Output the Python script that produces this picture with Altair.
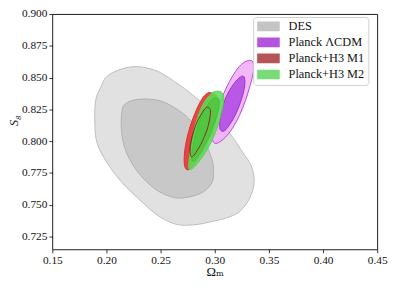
import altair as alt
import pandas as pd

# ---- contour vertices (Omega_m, S8) ----
des_outer_x = [0.2020, 0.2232, 0.2444, 0.2626, 0.2808, 0.2989, 0.3140, 0.3262, 0.3337, 0.3364,
               0.3321, 0.3231, 0.3110, 0.2989, 0.2837, 0.2686, 0.2565, 0.2444, 0.2293, 0.2141,
               0.2005, 0.1914, 0.1893, 0.1900, 0.1945]
des_outer_y = [0.8521, 0.8585, 0.8559, 0.8470, 0.8355, 0.8214, 0.8060, 0.7907, 0.7805, 0.7677,
               0.7549, 0.7446, 0.7396, 0.7370, 0.7344, 0.7339, 0.7370, 0.7434, 0.7549, 0.7677,
               0.7830, 0.7984, 0.8137, 0.8317, 0.8419]
des_inner_x = [0.2172, 0.2293, 0.2474, 0.2626, 0.2777, 0.2898, 0.2974, 0.2989, 0.2958, 0.2867,
               0.2717, 0.2595, 0.2444, 0.2293, 0.2186, 0.2141, 0.2141]
des_inner_y = [0.8291, 0.8329, 0.8321, 0.8265, 0.8163, 0.8010, 0.7856, 0.7728, 0.7651, 0.7588,
               0.7554, 0.7562, 0.7626, 0.7753, 0.7907, 0.8060, 0.8214]

planck_outer_x = [0.3336, 0.3359, 0.3354, 0.3327, 0.3282, 0.3227, 0.3163, 0.3100, 0.3036, 0.2995,
                  0.2977, 0.2982, 0.3009, 0.3054, 0.3118, 0.3191, 0.3263]
planck_outer_y = [0.8635, 0.8600, 0.8531, 0.8439, 0.8316, 0.8201, 0.8101, 0.8032, 0.7989, 0.7986,
                  0.8024, 0.8101, 0.8208, 0.8316, 0.8439, 0.8547, 0.8616]
planck_inner_x = [0.3259, 0.3277, 0.3273, 0.3245, 0.3200, 0.3145, 0.3091, 0.3054, 0.3045, 0.3063,
                  0.3100, 0.3154, 0.3209]
planck_inner_y = [0.8512, 0.8485, 0.8416, 0.8324, 0.8224, 0.8139, 0.8082, 0.8085, 0.8139, 0.8239,
                  0.8339, 0.8424, 0.8485]

m1_outer_x = [0.2963, 0.3009, 0.3032, 0.3027, 0.2991, 0.2927, 0.2854, 0.2791, 0.2750, 0.2723,
              0.2718, 0.2736, 0.2773, 0.2827, 0.2882, 0.2927]
m1_outer_y = [0.8381, 0.8362, 0.8316, 0.8224, 0.8101, 0.7978, 0.7870, 0.7797, 0.7774, 0.7801,
              0.7878, 0.7993, 0.8116, 0.8239, 0.8331, 0.8374]
m1_inner_x = [0.2941, 0.2959, 0.2954, 0.2927, 0.2882, 0.2836, 0.2800, 0.2777, 0.2773, 0.2791,
              0.2827, 0.2873, 0.2909]
m1_inner_y = [0.8266, 0.8239, 0.8178, 0.8085, 0.7993, 0.7924, 0.7882, 0.7886, 0.7947, 0.8032,
              0.8132, 0.8208, 0.8255]

m2_outer_x = [0.3036, 0.3068, 0.3082, 0.3077, 0.3054, 0.3018, 0.2963, 0.2900, 0.2836, 0.2791,
              0.2764, 0.2759, 0.2773, 0.2795, 0.2823, 0.2864, 0.2909, 0.2963, 0.3000]
m2_outer_y = [0.8393, 0.8381, 0.8347, 0.8285, 0.8201, 0.8093, 0.7986, 0.7893, 0.7820, 0.7782,
              0.7778, 0.7817, 0.7916, 0.8032, 0.8139, 0.8239, 0.8316, 0.8370, 0.8389]
m2_inner_x = [0.3027, 0.3041, 0.3032, 0.2991, 0.2936, 0.2873, 0.2818, 0.2791, 0.2791, 0.2814,
              0.2850, 0.2900, 0.2954, 0.2995]
m2_inner_y = [0.8339, 0.8308, 0.8239, 0.8132, 0.8016, 0.7916, 0.7851, 0.7847, 0.7909, 0.8016,
              0.8132, 0.8231, 0.8308, 0.8339]

series_names = ["DES", "Planck \u039bCDM", "Planck+H3 M1", "Planck+H3 M2"]
legend_colors = ["#c4c4c4", "#b553e0", "#b45656", "#78dd78"]

x_ticks = [0.15, 0.20, 0.25, 0.30, 0.35, 0.40, 0.45]
y_ticks = [0.725, 0.750, 0.775, 0.800, 0.825, 0.850, 0.875, 0.900]

# polygon styles: (key, xs, ys, fill, stroke, fill opacity)
polys = [
    ("p0_des_outer", des_outer_x, des_outer_y, "#e1e1e1", "#bdbdbd", 1.0),
    ("p1_des_inner", des_inner_x, des_inner_y, "#c8c8c8", "#b0b0b0", 1.0),
    ("p2_planck_outer", planck_outer_x, planck_outer_y, "#f2b0f6", "#b245e0", 0.9),
    ("p3_planck_inner", planck_inner_x, planck_inner_y, "#b552e6", "#9a34cc", 0.95),
    ("p4_m1_outer", m1_outer_x, m1_outer_y, "#e83c3c", "#d63030", 0.95),
    ("p5_m1_inner", m1_inner_x, m1_inner_y, "#c43636", "#8b1e1e", 0.95),
    ("p6_m2_outer", m2_outer_x, m2_outer_y, "#5fdc5a", "#4fd64a", 0.88),
    ("p7_m2_inner", m2_inner_x, m2_inner_y, "#3cc432", "#3cc432", 0.55),
    ("p8_m1_inner_line", m1_inner_x, m1_inner_y, "transparent", "#8b2a1e", 0.0),
]
rows = []
for key, xs, ys, fc, sc, fo in polys:
    for i, (a, b) in enumerate(zip(xs, ys)):
        rows.append({"poly": key, "idx": i, "x": a, "y": b, "fill": fc, "stroke": sc, "fop": fo})
df = pd.DataFrame(rows)
df_leg = pd.DataFrame({"series": series_names})

FONT = "Liberation Serif, DejaVu Serif, serif"

xaxis = alt.Axis(values=x_ticks, format=".2f", title="\u03a9\u2098", grid=False, domain=False,
                 tickSize=3.5, tickColor="#000", tickWidth=0.8, labelPadding=1.5,
                 labelFont=FONT, labelFontSize=11.5, labelColor="#111", labelFlush=False,
                 labelOverlap=False, titleFont=FONT, titleFontSize=13, titleFontWeight="normal",
                 titleColor="#111", titleY=27, titleBaseline="alphabetic")
yaxis = alt.Axis(values=y_ticks, format=".3f", title="S\u2088", grid=False, domain=False,
                 tickSize=3.5, tickColor="#000", tickWidth=0.8, labelPadding=2,
                 labelFont=FONT, labelFontSize=11.5, labelColor="#111", labelFlush=False,
                 labelOverlap=False, titleFont=FONT, titleFontSize=13, titleFontWeight="normal",
                 titleFontStyle="italic", titleColor="#111", titleX=-32, titleY=108)

polys_layer = alt.Chart(df).mark_line(interpolate="cardinal-closed", strokeWidth=1).encode(
    x=alt.X("x:Q", scale=alt.Scale(domain=[0.15, 0.45], nice=False, zero=False), axis=xaxis),
    y=alt.Y("y:Q", scale=alt.Scale(domain=[0.7148, 0.9], nice=False, zero=False), axis=yaxis),
    detail="poly:N",
    order="idx:Q",
    fill=alt.Fill("fill:N", scale=None),
    stroke=alt.Stroke("stroke:N", scale=None),
    fillOpacity=alt.FillOpacity("fop:Q", scale=None),
)

legend_layer = alt.Chart(df_leg).mark_square(opacity=0).encode(
    color=alt.Color("series:N",
                    scale=alt.Scale(domain=series_names, range=legend_colors),
                    legend=alt.Legend(orient="none", legendX=204, legendY=3, title=None,
                                      symbolType="M-1,-0.43H1V0.43H-1Z", symbolSize=529,
                                      symbolOpacity=1, symbolStrokeWidth=0, clipHeight=11,
                                      rowPadding=3.3, padding=4, labelFont=FONT,
                                      labelFontSize=12.5, labelFontWeight="normal",
                                      labelColor="#111", labelOffset=9,
                                      strokeColor="#d0d0d0", fillColor="rgba(255,255,255,0.85)",
                                      cornerRadius=3, labelLimit=200)),
)

chart = alt.layer(polys_layer, legend_layer).properties(
    width=330, height=239,
    autosize=alt.AutoSizeParams(type="none"),
    padding={"left": 45, "top": 4, "right": 14, "bottom": 30},
    background="white",
).configure_view(stroke="#000", strokeWidth=0.9)

chart.save("out.html", embed_options={"renderer": "svg", "actions": False})
